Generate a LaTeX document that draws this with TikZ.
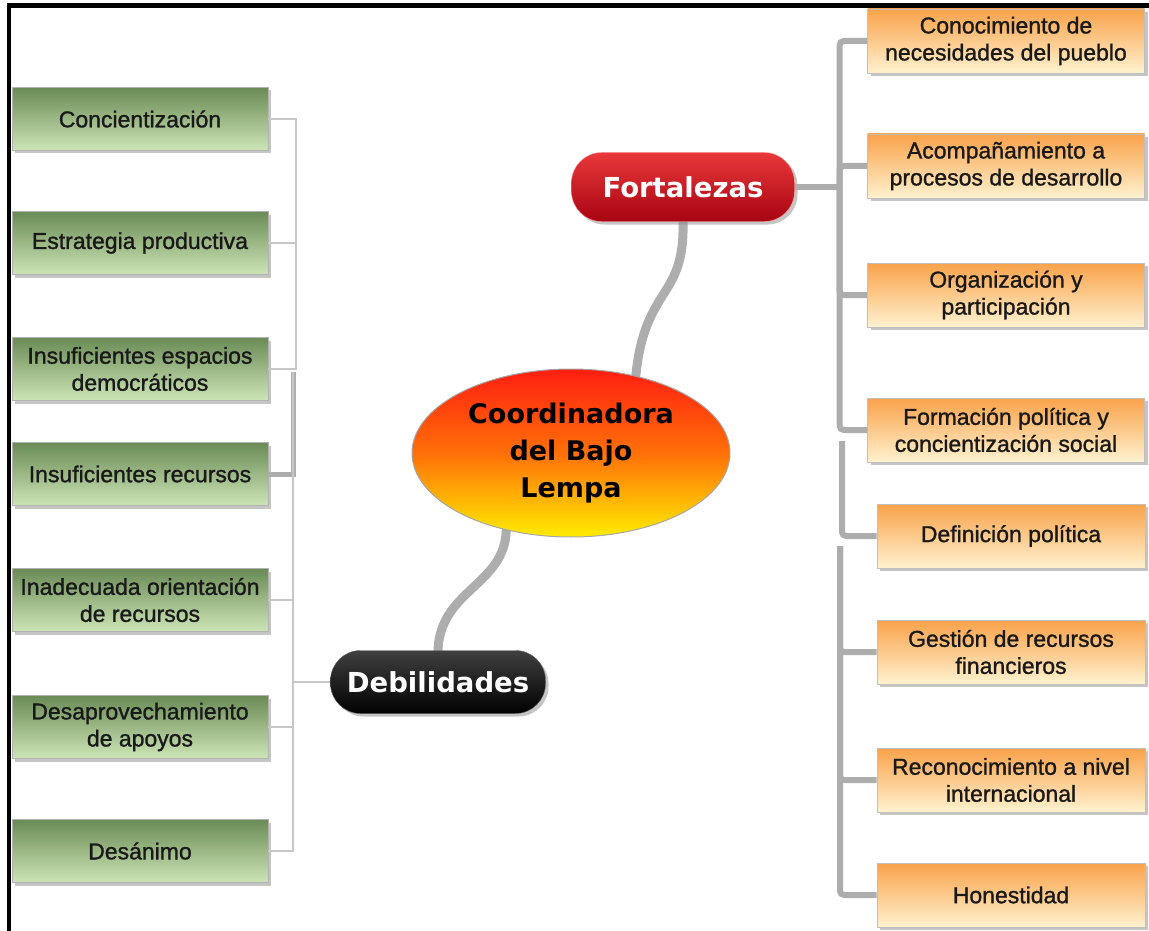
\documentclass[tikz,border=0pt]{standalone}
\usepackage{fontspec}
\setmainfont{Liberation Sans}
\newfontfamily\boxfont{Liberation Sans}[FakeBold=1.2]
\newfontfamily\headfont{DejaVu Sans}
\usepackage{tikz}
\usetikzlibrary{shapes.geometric,shadows,backgrounds}

\definecolor{greentop}{HTML}{6A8B56}
\definecolor{greenbot}{HTML}{CDE5B5}
\definecolor{orangetop}{HTML}{F9A24A}
\definecolor{orangebot}{HTML}{FFF2CF}
\definecolor{redtop}{HTML}{E8383A}
\definecolor{redbot}{HTML}{A80412}
\definecolor{coretop}{HTML}{FF1E10}
\definecolor{coremid}{HTML}{FF7008}
\definecolor{corebot}{HTML}{FFEC00}

\begin{document}
\begin{tikzpicture}[x=1pt,y=-1pt,
  boxshadow/.style={drop shadow={shadow xshift=3pt,shadow yshift=-3pt,opacity=.5,fill=black!45}},
  weak/.style={draw=black!30,line width=.6pt,top color=greentop,bottom color=greenbot,
    minimum width=256pt,minimum height=63pt,inner sep=2pt,align=center,text=black!90,
    font=\boxfont\fontsize{23}{27}\selectfont,boxshadow},
  strong/.style={draw=black!25,line width=.6pt,top color=orangetop,bottom color=orangebot,
    minimum width=268pt,minimum height=64pt,inner sep=2pt,align=center,text=black!90,
    font=\boxfont\fontsize{23}{27}\selectfont,boxshadow},
  pill/.style={rounded corners=30pt,inner sep=0pt,text=white,
    font=\headfont\bfseries\fontsize{27.5}{33}\selectfont,boxshadow},
  branch/.style={draw=black!32,line width=9pt,line cap=round},
  rline/.style={draw=black!32,line width=6pt,rounded corners=4pt},
  lline/.style={draw=black!22,line width=2pt},
  lthick/.style={draw=black!32,line width=5pt}]
\useasboundingbox (0,0) rectangle (1149,931);

% frame
\draw[line width=5pt] (7,6) -- (1149,6);
\draw[line width=4pt] (9,4) -- (9,931);

% centre and the two branches
\node[ellipse,draw=black!35,line width=1pt,top color=coretop,bottom color=corebot,middle color=coremid,
  minimum width=318pt,minimum height=168pt,inner sep=0pt,align=center,
  font=\headfont\bfseries\fontsize{27}{37}\selectfont] (C) at (571,453) {Coordinadora\\del Bajo\\Lempa};
\node[pill,draw=red!35!white,top color=redtop,bottom color=redbot,minimum width=223pt,minimum height=69pt] (F) at (683,187) {Fortalezas};
\node[pill,draw=black!60,top color=black!75,bottom color=black,minimum width=215pt,minimum height=63pt] (D) at (438,682) {Debilidades};

% debilidades
\node[weak] (D1) at (140,119) {Concientización};
\node[weak] (D2) at (140,243) {Estrategia productiva};
\node[weak] (D3) at (140,369) {Insuficientes espacios\\democráticos};
\node[weak] (D4) at (140,474) {Insuficientes recursos};
\node[weak] (D5) at (140,600) {Inadecuada orientación\\de recursos};
\node[weak] (D6) at (140,727) {Desaprovechamiento\\de apoyos};
\node[weak] (D7) at (140,851) {Desánimo};

% fortalezas
\node[strong,minimum width=277pt] (F1) at (1006,41) {Conocimiento de\\necesidades del pueblo};
\node[strong,minimum width=277pt] (F2) at (1006,166) {Acompañamiento a\\procesos de desarrollo};
\node[strong,minimum width=277pt] (F3) at (1006,295) {Organización y\\participación};
\node[strong,minimum width=277pt] (F4) at (1006,430) {Formación política y\\concientización social};
\node[strong] (F5) at (1011,536) {Definición política};
\node[strong] (F6) at (1011,652) {Gestión de recursos\\financieros};
\node[strong] (F7) at (1011,780) {Reconocimiento a nivel\\internacional};
\node[strong] (F8) at (1011,895) {Honestidad};

\begin{scope}[on background layer]
\draw[branch] (F.south) .. controls (685,300) and (645,285) .. (C.50);
\draw[branch] (C.-130) .. controls (505,585) and (440,590) .. (D.north);
\end{scope}

\draw[rline] (F.east) -- ++(45,0) coordinate (r1);
\draw[rline] (r1) |- (F1.west);
\draw[rline] (r1) |- (F2.west);
\draw[rline] (r1) |- (F3.west);
\draw[rline] (r1) |- (F4.west);
\coordinate (r2) at (842,441);
\draw[rline] (r2) |- (F5.west);
\coordinate (r3) at (840,546);
\draw[rline] (r3) |- (F6.west);
\draw[rline] (r3) |- (F7.west);
\draw[rline] (r3) |- (F8.west);

\draw[lline] (D1.east) -- ++(28,0) |- (D3.east);
\draw[lline] (D2.east) -- ++(28,0);
\coordinate (l1) at (293,372);
\draw[lthick] (l1) |- (D4.east);
\draw[lline] (l1) |- (D5.east);
\draw[lline] (l1) |- (D6.east);
\draw[lline] (l1) |- (D7.east);
\draw[lline] (l1) |- (D.west);
\end{tikzpicture}
\end{document}
